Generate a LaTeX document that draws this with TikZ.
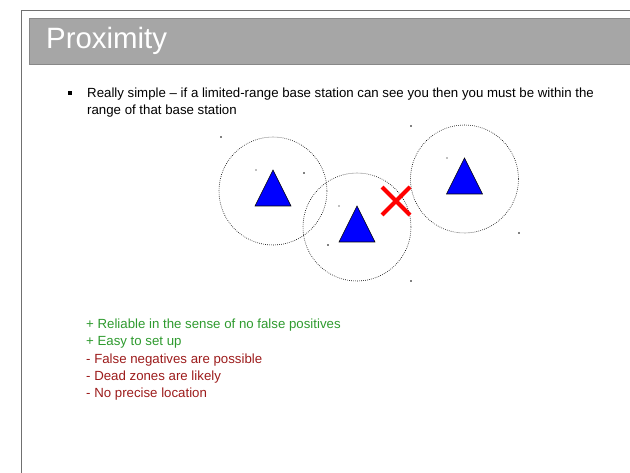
\documentclass[tikz,border=0pt]{standalone}
\usepackage{fontspec}
\setmainfont{Liberation Sans}
\usepackage{xcolor}
\usetikzlibrary{positioning,calc}
\definecolor{framegray}{HTML}{707070}
\definecolor{barfill}{HTML}{A6A6A6}
\definecolor{barline}{HTML}{888888}
\definecolor{stationblue}{HTML}{0000FF}
\definecolor{progreen}{HTML}{2E9A2E}
\definecolor{conred}{HTML}{9C1B1B}
\definecolor{crossred}{HTML}{FF0000}
\newcommand{\bodyfont}{\fontsize{13.25bp}{17bp}\selectfont}
\tikzset{
  heading/.style  = {anchor=base west, inner sep=0pt, text=white,
                     font=\fontsize{29.4bp}{34bp}\selectfont},
  bodyline/.style = {anchor=base west, inner sep=0pt, font=\bodyfont},
  rangering/.style = {draw=black, line width=0.6bp, dash pattern=on 0.7bp off 1.3bp},
  tower/.style    = {draw=black, fill=stationblue, line width=0.6bp, line join=miter},
  speck/.style    = {fill=#1, draw=none},
  cross/.style    = {draw=crossred, line width=4bp},
}
% one base station: dotted range circle and blue triangle
\newcommand{\basestation}[2]{%
  \coordinate (#1) at (#2);
  \draw[rangering] (#1) circle[radius=54];
  \draw[tower] ($(#1)+(0,-21)$) -- ($(#1)+(18,15)$) -- ($(#1)+(-18,15)$) -- cycle;
}

\begin{document}
\begin{tikzpicture}[x=1bp,y=-1bp]
  \useasboundingbox (0,0) rectangle (630,473);

  % slide frame and title bar
  \draw[framegray, line width=1bp] (21,480) -- (21,11) -- (640,11);
  \draw[barline, fill=barfill, line width=1bp] (29,19) rectangle (640,65);
  \node[heading] (title) at (46,49) {Proximity};

  % bullet text
  \node[fill=black, inner sep=0pt, minimum size=3.6bp] (dot) at (70,93) {};
  \node[bodyline] (line1) at (87,98) {Really simple -- if a limited-range base station can see you then you must be within the};
  \node[bodyline] (line2) at (87,115) {range of that base station};

  % stations
  \basestation{left}{273,191}
  \basestation{mid}{357,227}
  \basestation{right}{464.5,179}

  % specks
  \foreach \p in {(221,137),(411,126),(304,173),(328,245),(411,281),(519,233)}
    \fill[speck=black] \p circle[radius=0.8];
  \foreach \p in {(256,170),(339,206),(447,158)}
    \fill[speck=gray] \p circle[radius=0.8];

  % blocked link
  \draw[cross] (382,187) -- (410,215);
  \draw[cross] (382,215) -- (410,187);

  % pros and cons
  \node[bodyline, text=progreen] (pro1) at (86,328) {+ Reliable in the sense of no false positives};
  \node[bodyline, text=progreen] (pro2) at (86,345.5) {+ Easy to set up};
  \node[bodyline, text=conred] (con1) at (86,363) {- False negatives are possible};
  \node[bodyline, text=conred] (con2) at (86,380) {- Dead zones are likely};
  \node[bodyline, text=conred] (con3) at (86,397) {- No precise location};
\end{tikzpicture}
\end{document}
